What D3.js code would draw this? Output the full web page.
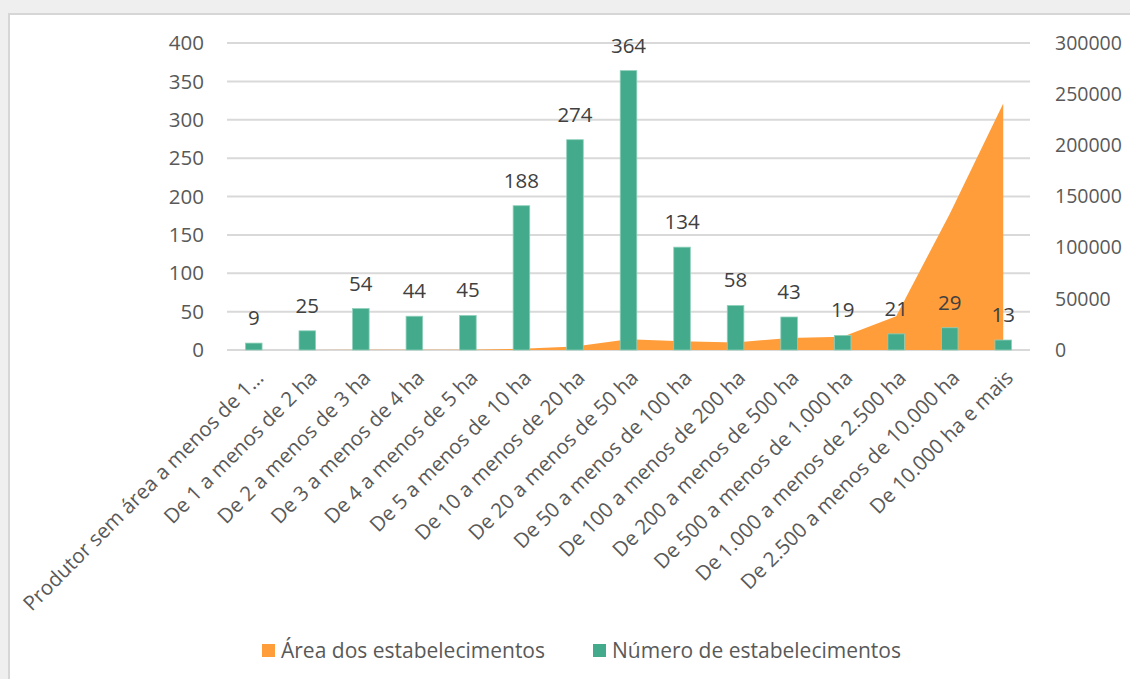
<!DOCTYPE html>
<html>
<head>
<meta charset="utf-8">
<script src="https://cdn.jsdelivr.net/npm/d3@7"></script>
<style>
  body { margin: 0; background: #efefef; }
  svg { display: block; font-family: 'Open Sans', sans-serif; }
</style>
</head>
<body>
<svg width="1130" height="679"></svg>
<script>
const categories = [
  'Produtor sem área a menos de 1...',
  'De 1 a menos de 2 ha',
  'De 2 a menos de 3 ha',
  'De 3 a menos de 4 ha',
  'De 4 a menos de 5 ha',
  'De 5 a menos de 10 ha',
  'De 10 a menos de 20 ha',
  'De 20 a menos de 50 ha',
  'De 50 a menos de 100 ha',
  'De 100 a menos de 200 ha',
  'De 200 a menos de 500 ha',
  'De 500 a menos de 1.000 ha',
  'De 1.000 a menos de 2.500 ha',
  'De 2.500 a menos de 10.000 ha',
  'De 10.000 ha e mais'
]
const numero = [9, 25, 54, 44, 45, 188, 274, 364, 134, 58, 43, 19, 21, 29, 13]
const area = [0, 40, 130, 150, 200, 1300, 3500, 10500, 8500, 7300, 11800, 13000, 33000, 133000, 241000]
const leftTicks = [0, 50, 100, 150, 200, 250, 300, 350, 400]
const rightTicks = [0, 50000, 100000, 150000, 200000, 250000, 300000]

const orange = '#ff9d3a',
  green = '#43aa8b',
  grid = '#d9d9d9',
  axisText = '#595959',
  labelText = '#404040'

const svg = d3.select('svg')

// frame
svg.append('rect')
  .attr('x', 9).attr('y', 14)
  .attr('width', 1130).attr('height', 700)
  .attr('fill', '#fff')
  .attr('stroke', '#d6d6d6')
  .attr('stroke-width', 2)

const plot = { left: 227, right: 1030, top: 43, bottom: 350 }

const x = d3.scaleBand()
  .domain(categories)
  .range([plot.left, plot.right])

const yL = d3.scaleLinear().domain([0, 400]).range([plot.bottom, plot.top])
const yR = d3.scaleLinear().domain([0, 300000]).range([plot.bottom, plot.top])

const cx = d => x(d) + x.bandwidth() / 2

// gridlines
svg.append('g')
  .selectAll('line')
  .data(leftTicks)
  .enter().append('line')
  .attr('x1', plot.left)
  .attr('x2', plot.right)
  .attr('y1', d => yL(d))
  .attr('y2', d => yL(d))
  .attr('stroke', grid)
  .attr('stroke-width', 2)

// left axis labels
svg.append('g')
  .selectAll('text')
  .data(leftTicks)
  .enter().append('text')
  .attr('x', 204)
  .attr('y', d => yL(d))
  .attr('dy', '0.35em')
  .attr('text-anchor', 'end')
  .attr('fill', axisText)
  .style('font-size', '20.5px')
  .text(d => d)

// right axis labels
svg.append('g')
  .selectAll('text')
  .data(rightTicks)
  .enter().append('text')
  .attr('x', 1055)
  .attr('y', d => yR(d))
  .attr('dy', '0.35em')
  .attr('fill', axisText)
  .style('font-size', '19.5px')
  .text(d => d)

// area series
const areaGen = d3.area()
  .x((d, i) => cx(categories[i]))
  .y0(yR(0))
  .y1(d => yR(d))

svg.append('path')
  .datum(area)
  .attr('d', areaGen)
  .attr('fill', orange)

// bars
const barW = x.bandwidth() * 0.31
svg.append('g')
  .selectAll('rect')
  .data(numero)
  .enter().append('rect')
  .attr('x', (d, i) => cx(categories[i]) - barW / 2)
  .attr('y', d => yL(d))
  .attr('width', barW)
  .attr('height', d => yL(0) - yL(d))
  .attr('fill', green)
  .attr('stroke', '#8fd0bb')
  .attr('stroke-width', 0.8)

// bar labels
svg.append('g')
  .selectAll('text')
  .data(numero)
  .enter().append('text')
  .attr('x', (d, i) => cx(categories[i]))
  .attr('y', d => yL(d) - 18)
  .attr('text-anchor', 'middle')
  .attr('fill', labelText)
  .style('font-size', '20.5px')
  .text(d => d)

// category labels
svg.append('g')
  .selectAll('text')
  .data(categories)
  .enter().append('text')
  .attr('transform', d => `translate(${cx(d) + 6},${plot.bottom + 24}) rotate(-45)`)
  .attr('text-anchor', 'end')
  .attr('dy', '0.35em')
  .attr('fill', axisText)
  .style('font-size', '20.5px')
  .text(d => d)

// legend
const legend = [
  { name: 'Área dos estabelecimentos', color: orange, x: 262 },
  { name: 'Número de estabelecimentos', color: green, x: 593 }
]
const lg = svg.append('g')
  .selectAll('g')
  .data(legend)
  .enter().append('g')
  .attr('transform', d => `translate(${d.x},644)`)
lg.append('rect')
  .attr('width', 13).attr('height', 13)
  .attr('fill', d => d.color)
lg.append('text')
  .attr('x', 19)
  .attr('y', 6.5)
  .attr('dy', '0.35em')
  .attr('fill', axisText)
  .style('font-size', '21px')
  .text(d => d.name)
</script>
</body>
</html>
